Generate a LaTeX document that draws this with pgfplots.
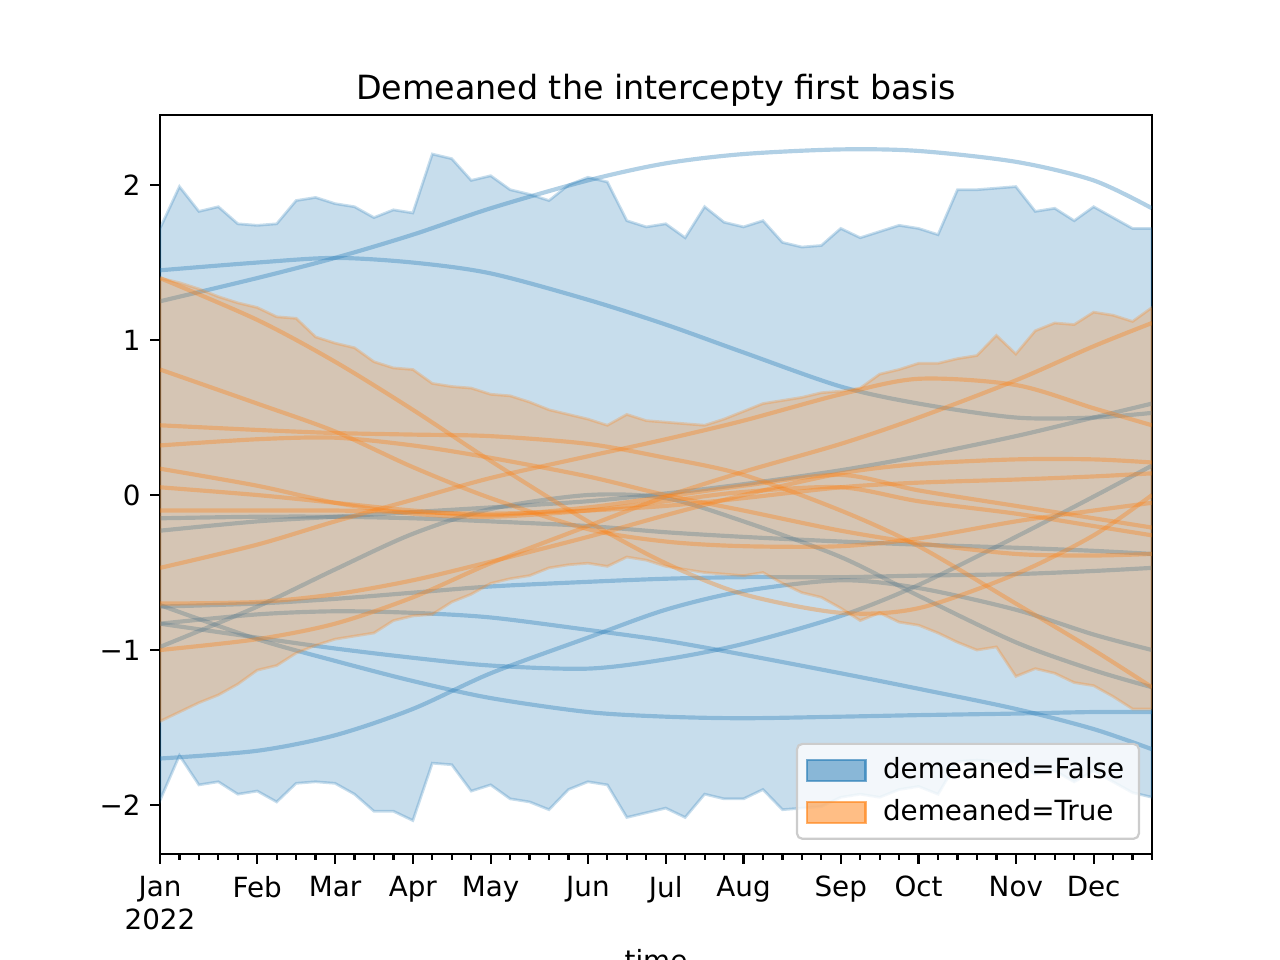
\documentclass[border=0pt]{standalone}
\usepackage{fontspec}
\setmainfont{DejaVu Sans}
\usepackage{pgfplots}
\usepackage{pgfplotstable}
\pgfplotsset{compat=1.18}
\definecolor{tabblue}{HTML}{1F77B4}
\definecolor{taborange}{HTML}{FF7F0E}

% band outlines: upper edge week 0..51, then lower edge week 51..0
\pgfplotstableread{
w v
0 1.72
1 1.99
2 1.83
3 1.86
4 1.75
5 1.74
6 1.75
7 1.90
8 1.92
9 1.88
10 1.86
11 1.79
12 1.84
13 1.82
14 2.20
15 2.17
16 2.03
17 2.06
18 1.97
19 1.94
20 1.90
21 2.00
22 2.05
23 2.02
24 1.77
25 1.73
26 1.75
27 1.66
28 1.86
29 1.76
30 1.73
31 1.77
32 1.63
33 1.60
34 1.61
35 1.72
36 1.66
37 1.70
38 1.74
39 1.72
40 1.68
41 1.97
42 1.97
43 1.98
44 1.99
45 1.83
46 1.85
47 1.77
48 1.86
49 1.79
50 1.72
51 1.72
51 -1.95
50 -1.92
49 -1.85
48 -1.78
47 -1.85
46 -1.78
45 -1.80
44 -1.72
43 -1.72
42 -1.71
41 -1.72
40 -1.93
39 -1.88
38 -1.90
37 -1.95
36 -1.93
35 -1.95
34 -2.01
33 -2.02
32 -2.03
31 -1.90
30 -1.96
29 -1.96
28 -1.93
27 -2.08
26 -2.02
25 -2.05
24 -2.08
23 -1.87
22 -1.85
21 -1.90
20 -2.03
19 -1.98
18 -1.96
17 -1.87
16 -1.91
15 -1.74
14 -1.73
13 -2.10
12 -2.04
11 -2.04
10 -1.93
9 -1.86
8 -1.85
7 -1.86
6 -1.98
5 -1.91
4 -1.93
3 -1.85
2 -1.87
1 -1.68
0 -1.97
}\blueband

\pgfplotstableread{
w v
0 1.40
1 1.37
2 1.33
3 1.28
4 1.24
5 1.21
6 1.15
7 1.14
8 1.02
9 0.98
10 0.95
11 0.86
12 0.82
13 0.81
14 0.72
15 0.70
16 0.69
17 0.65
18 0.64
19 0.60
20 0.55
21 0.52
22 0.49
23 0.45
24 0.52
25 0.48
26 0.47
27 0.46
28 0.45
29 0.49
30 0.54
31 0.59
32 0.61
33 0.63
34 0.66
35 0.67
36 0.69
37 0.78
38 0.81
39 0.85
40 0.85
41 0.88
42 0.90
43 1.03
44 0.91
45 1.06
46 1.11
47 1.10
48 1.18
49 1.16
50 1.12
51 1.21
51 -1.38
50 -1.38
49 -1.30
48 -1.23
47 -1.21
46 -1.15
45 -1.12
44 -1.17
43 -0.98
42 -1.00
41 -0.95
40 -0.89
39 -0.84
38 -0.82
37 -0.76
36 -0.81
35 -0.73
34 -0.66
33 -0.63
32 -0.57
31 -0.50
30 -0.52
29 -0.51
28 -0.50
27 -0.48
26 -0.46
25 -0.42
24 -0.40
23 -0.46
22 -0.44
21 -0.45
20 -0.47
19 -0.52
18 -0.54
17 -0.57
16 -0.64
15 -0.69
14 -0.77
13 -0.78
12 -0.81
11 -0.89
10 -0.91
9 -0.93
8 -0.97
7 -1.02
6 -1.10
5 -1.13
4 -1.22
3 -1.29
2 -1.34
1 -1.40
0 -1.46
}\orangeband

% individual curves, read at the month ticks
\pgfplotstableread{
w b1 b2 b3 b4 b5 b6 b7 b8 b9 b10
0 1.25 1.45 -0.23 -0.83 -0.15 -0.72 -0.98 -1.70 -0.71 -0.83
5 1.40 1.50 -0.17 -0.92 -0.14 -0.70 -0.72 -1.65 -0.93 -0.77
9 1.53 1.53 -0.14 -0.99 -0.14 -0.67 -0.48 -1.55 -1.07 -0.75
13 1.68 1.50 -0.11 -1.05 -0.15 -0.63 -0.25 -1.38 -1.20 -0.76
17 1.85 1.43 -0.08 -1.10 -0.17 -0.59 -0.09 -1.15 -1.31 -0.79
22 2.03 1.26 -0.04 -1.12 -0.20 -0.56 0.00 -0.92 -1.40 -0.87
26 2.14 1.10 0.01 -1.06 -0.24 -0.54 -0.02 -0.74 -1.43 -0.94
30 2.20 0.92 0.07 -0.96 -0.27 -0.53 -0.17 -0.62 -1.44 -1.03
35 2.23 0.70 0.16 -0.78 -0.30 -0.53 -0.40 -0.55 -1.43 -1.15
39 2.22 0.59 0.25 -0.58 -0.32 -0.52 -0.65 -0.60 -1.42 -1.25
44 2.15 0.50 0.38 -0.27 -0.34 -0.51 -0.95 -0.74 -1.41 -1.38
48 2.03 0.50 0.50 -0.01 -0.36 -0.49 -1.13 -0.90 -1.40 -1.51
51 1.85 0.53 0.59 0.19 -0.38 -0.47 -1.24 -1.00 -1.40 -1.64
}\bluelines

\pgfplotstableread{
w o1 o2 o3 o4 o5 o6 o7 o8 o9 o10
0 1.40 0.81 0.45 0.32 0.17 0.05 -0.10 -0.70 -0.47 -1.00
5 1.13 0.59 0.42 0.36 0.06 0.00 -0.10 -0.69 -0.32 -0.93
9 0.86 0.41 0.40 0.37 -0.05 -0.05 -0.10 -0.64 -0.17 -0.83
13 0.55 0.18 0.39 0.32 -0.12 -0.10 -0.11 -0.55 -0.03 -0.66
17 0.22 -0.02 0.38 0.24 -0.14 -0.13 -0.12 -0.43 0.11 -0.44
22 -0.17 -0.22 0.33 0.12 -0.10 -0.08 -0.10 -0.27 0.25 -0.20
26 -0.44 -0.30 0.24 0.00 -0.04 -0.01 -0.07 -0.13 0.36 -0.01
30 -0.64 -0.33 0.13 -0.10 0.02 0.06 -0.02 0.00 0.48 0.15
35 -0.76 -0.33 -0.10 -0.23 0.05 0.13 0.05 0.14 0.65 0.33
39 -0.73 -0.28 -0.33 -0.31 -0.04 0.03 0.08 0.20 0.75 0.50
44 -0.51 -0.17 -0.70 -0.38 -0.12 -0.07 0.10 0.23 0.71 0.74
48 -0.26 -0.10 -1.00 -0.39 -0.20 -0.15 0.12 0.23 0.56 0.96
51 0.00 -0.05 -1.24 -0.38 -0.26 -0.21 0.14 0.21 0.45 1.11
}\orangelines

\pgfplotsset{
  bluecurve/.style={tabblue, draw opacity=0.35, line width=1.5pt, smooth, forget plot},
  orangecurve/.style={taborange, draw opacity=0.35, line width=1.5pt, smooth, forget plot},
}

\begin{document}
\begin{tikzpicture}
\begin{axis}[
  at={(57.6pt,38.16pt)}, anchor=south west,
  scale only axis, width=357.12pt, height=266.04pt,
  xmin=0, xmax=51, ymin=-2.316, ymax=2.452,
  xtick={0,5,9,13,17,22,26,30,35,39,44,48},
  xticklabels={Jan\\2022,Feb,Mar,Apr,May,Jun,Jul,Aug,Sep,Oct,Nov,Dec},
  xticklabel style={align=center, yshift=-1pt},
  minor xtick={1,...,51},
  ytick={-2,-1,0,1,2},
  yticklabels={−2,−1,0,1,2},
  tick align=outside, tick pos=left,
  major tick length=3.5pt, minor tick length=2pt,
  every tick/.append style={black, line width=0.8pt},
  axis line style={line width=0.8pt},
  title={Demeaned the intercepty first basis},
  title style={font=\fontsize{12}{14}\selectfont, yshift=-6.6pt},
  xlabel={time},
  legend style={at={(0.988,0.019)}, anchor=south east, draw=black!20,
    fill=white, fill opacity=0.8, text opacity=1, rounded corners=2pt,
    cells={anchor=west}, inner xsep=3.3pt, inner ysep=3pt, row sep=2pt,
    line width=0.8pt},
]
% blue band
\addplot[fill=tabblue, fill opacity=0.25, draw=tabblue, draw opacity=0.25, line width=1pt, forget plot] table[x=w,y=v]{\blueband} -- cycle;
% blue curves
\addplot[bluecurve] table[x=w,y=b1]{\bluelines};
\addplot[bluecurve] table[x=w,y=b2]{\bluelines};
\addplot[bluecurve] table[x=w,y=b3]{\bluelines};
\addplot[bluecurve] table[x=w,y=b4]{\bluelines};
\addplot[bluecurve] table[x=w,y=b5]{\bluelines};
\addplot[bluecurve] table[x=w,y=b6]{\bluelines};
\addplot[bluecurve] table[x=w,y=b7]{\bluelines};
\addplot[bluecurve] table[x=w,y=b8]{\bluelines};
\addplot[bluecurve] table[x=w,y=b9]{\bluelines};
\addplot[bluecurve] table[x=w,y=b10]{\bluelines};
% orange band
\addplot[fill=taborange, fill opacity=0.25, draw=taborange, draw opacity=0.25, line width=1pt, forget plot] table[x=w,y=v]{\orangeband} -- cycle;
% orange curves
\addplot[orangecurve] table[x=w,y=o1]{\orangelines};
\addplot[orangecurve] table[x=w,y=o2]{\orangelines};
\addplot[orangecurve] table[x=w,y=o3]{\orangelines};
\addplot[orangecurve] table[x=w,y=o4]{\orangelines};
\addplot[orangecurve] table[x=w,y=o5]{\orangelines};
\addplot[orangecurve] table[x=w,y=o6]{\orangelines};
\addplot[orangecurve] table[x=w,y=o7]{\orangelines};
\addplot[orangecurve] table[x=w,y=o8]{\orangelines};
\addplot[orangecurve] table[x=w,y=o9]{\orangelines};
\addplot[orangecurve] table[x=w,y=o10]{\orangelines};
% legend
\addlegendimage{legend image code/.code={\draw[sharp corners, fill=tabblue, fill opacity=0.5, draw=tabblue, draw opacity=0.6, line width=0.8pt] (0pt,-3.8pt) rectangle (21pt,3.8pt); \path[draw=none, fill=none] (0pt,0pt) -- (25.3pt,0pt);}}
\addlegendentry{demeaned=False}
\addlegendimage{legend image code/.code={\draw[sharp corners, fill=taborange, fill opacity=0.5, draw=taborange, draw opacity=0.6, line width=0.8pt] (0pt,-3.8pt) rectangle (21pt,3.8pt); \path[draw=none, fill=none] (0pt,0pt) -- (25.3pt,0pt);}}
\addlegendentry{demeaned=True}
\end{axis}
\pgfresetboundingbox
\useasboundingbox (0,0) rectangle (460.8pt,345.6pt);
\end{tikzpicture}
\end{document}
